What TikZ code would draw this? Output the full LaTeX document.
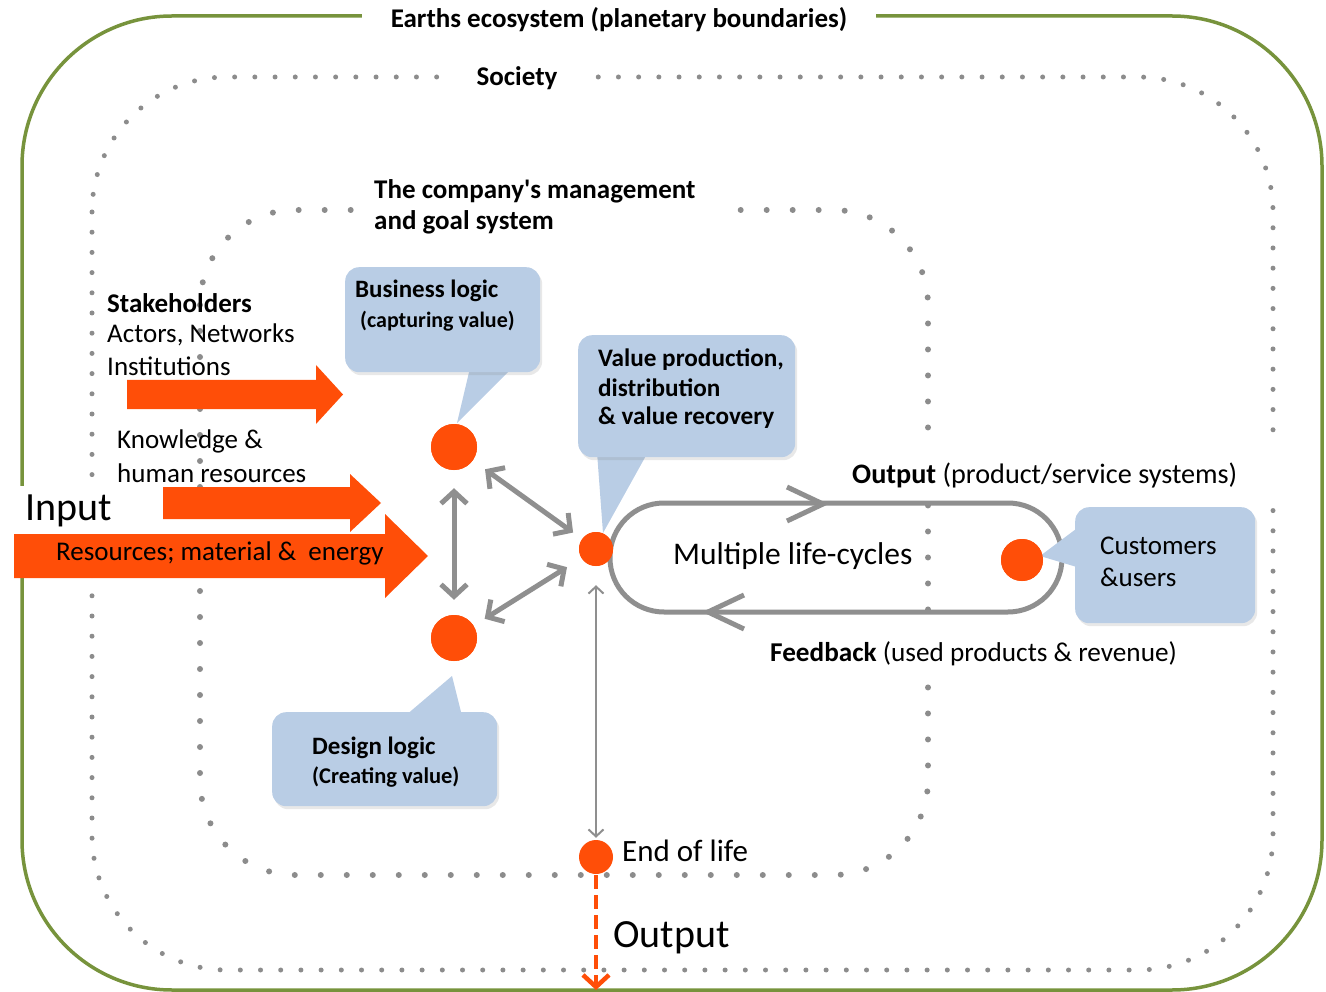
\documentclass[tikz,border=0pt]{standalone}
\usepackage{fontspec}
\setmainfont{Carlito}
\usetikzlibrary{arrows.meta,shadows}
\definecolor{ograng}{RGB}{255,78,8}
\definecolor{egreen}{RGB}{119,147,60}
\definecolor{dotgray}{RGB}{140,140,140}
\definecolor{callblue}{RGB}{185,205,229}
\definecolor{agray}{RGB}{143,143,143}
\newcommand\fsz[2]{\fontsize{#1}{#2}\selectfont}
\begin{document}
\begin{tikzpicture}[x=1pt,y=-1pt,
  greenline/.style={draw=egreen, line width=3.5pt},
  socline/.style={draw=dotgray, line width=5pt, line cap=round, dash pattern=on 0pt off 20.2pt},
  compline/.style={draw=dotgray, line width=6pt, line cap=round, dash pattern=on 0pt off 26pt},
  odot/.style={circle, fill=ograng, inner sep=0pt},
  lbl/.style={inner sep=0pt, anchor=west},
  whitebg/.style={fill=white, inner sep=0pt},
  callbox/.style={fill=callblue, rounded corners=14pt, inner sep=0pt, anchor=north west,
     drop shadow={opacity=0.18, shadow xshift=2pt, shadow yshift=-3pt}},
  callptr/.style={fill=callblue},
  garrow/.style={draw=agray, line width=5pt,
     {Straight Barb[length=12pt,width=26pt]}-{Straight Barb[length=12pt,width=26pt]}},
  thinarrow/.style={draw=agray, line width=2pt,
     {Straight Barb[length=7pt,width=15pt]}-{Straight Barb[length=7pt,width=15pt]}},
  eolarrow/.style={draw=ograng, line width=4.5pt, dash pattern=on 14pt off 6pt,
     -{Straight Barb[length=12pt,width=26pt]}},
  loopline/.style={draw=agray, line width=5pt},
  blockarrow/.style={fill=ograng},
]
\useasboundingbox (0,0) rectangle (1326,992);

% outlines
\draw[greenline, rounded corners=150pt] (22,16) rectangle (1322,990);
\draw[socline, rounded corners=135pt] (92,77) rectangle (1273,970);
\draw[compline, rounded corners=95pt] (200,210) rectangle (928,875);

% boundary labels
\node[whitebg, minimum width=514pt, minimum height=34pt, font=\bfseries\fsz{27}{31}] (title) at (619,20) {Earths ecosystem (planetary boundaries)};
\node[whitebg, minimum width=135pt, minimum height=30pt, font=\bfseries\fsz{27}{31}] (society) at (517,78) {Society};
\node[whitebg, anchor=north west, minimum width=375pt, minimum height=64pt] (compbg) at (360,175) {};
\node[lbl, font=\bfseries\fsz{27}{31}] (comp1) at (374,191) {The company\textquotesingle s management};
\node[lbl, font=\bfseries\fsz{27}{31}] (comp2) at (374,222) {and goal system};

% loop
\draw[loopline, rounded corners=54pt] (610,503) rectangle (1062,612);
\draw[loopline, line join=miter] (787,487) -- (823,504) -- (787,521);
\draw[loopline, line join=miter] (744,595) -- (708,612) -- (744,629);

\node[whitebg, anchor=west, minimum width=445pt, minimum height=54pt] (outbg) at (845,472) {};
\node[lbl, font=\fsz{28.2}{32}] (outlbl) at (852,475) {\textbf{Output} (product/service systems)};
\node[whitebg, anchor=west, inner xsep=7pt, minimum height=46pt, font=\fsz{27.2}{31}] (fblbl) at (763,654) {\textbf{Feedback} (used products \& revenue)};
\node[whitebg, anchor=west, inner xsep=10pt, inner ysep=9pt, font=\fsz{40}{46}] (input) at (15,511) {Input};

% orange block arrows
\fill[blockarrow] (127,380) -- (316,380) -- (316,365) -- (343,394.5) -- (316,424) -- (316,409) -- (127,409) -- cycle;
\fill[blockarrow] (163,487) -- (350,487) -- (350,474) -- (381,503) -- (350,532) -- (350,519) -- (163,519) -- cycle;
\fill[blockarrow] (14,534) -- (385,534) -- (385,514) -- (428,556) -- (385,598) -- (385,578) -- (14,578) -- cycle;

% dots
\node[odot, minimum size=46pt] (biz) at (454,447) {};
\node[odot, minimum size=46pt] (des) at (454,638) {};
\node[odot, minimum size=34pt] (val) at (596,549) {};
\node[odot, minimum size=42pt] (cust) at (1022,560) {};
\node[odot, minimum size=34pt] (eol) at (596,857) {};
\coordinate (bottomend) at (596,990);

% callouts
\fill[callptr] (470,368) -- (512,368) -- (457,423) -- cycle;
\node[callbox, minimum width=195pt, minimum height=105pt] (bizbox) at (345,267) {};
\fill[callptr] (597,452) -- (648,452) -- (603,533) -- cycle;
\node[callbox, minimum width=217pt, minimum height=122pt] (valbox) at (578,335) {};
\fill[callptr] (1080,526) -- (1080,568) -- (1040,556) -- cycle;
\node[callbox, minimum width=180pt, minimum height=116pt] (custbox) at (1075,507) {};
\fill[callptr] (405,716) -- (462,716) -- (452,676) -- cycle;
\node[callbox, minimum width=225pt, minimum height=94pt] (desbox) at (272,712) {};

% redraw dots over pointers
\node[odot, minimum size=46pt] at (biz) {};
\node[odot, minimum size=34pt] at (val) {};
\node[odot, minimum size=42pt] at (cust) {};
\node[odot, minimum size=46pt] at (des) {};

% gray connectors
\draw[garrow, shorten <=18pt, shorten >=15pt] (biz) -- (des);
\draw[garrow, shorten <=15pt, shorten >=11pt] (biz) -- (val);
\draw[garrow, shorten <=13pt, shorten >=17pt] (des) -- (val);
\draw[thinarrow, shorten <=19pt, shorten >=2pt] (val) -- (eol);
\draw[eolarrow, shorten <=1pt] (eol) -- (bottomend);

% texts
\node[lbl, font=\bfseries\fsz{27}{31}] (stk) at (107,303) {Stakeholders};
\node[lbl, font=\fsz{27}{31}] (act) at (107,335) {Actors, Networks};
\node[lbl, font=\fsz{27}{31}] (inst) at (107,366) {Institutions};
\node[lbl, font=\fsz{27}{31}] (know) at (117,441) {Knowledge \&};
\node[lbl, font=\fsz{27}{31}] (human) at (117,473) {human resources};
\node[lbl, font=\fsz{27}{31}] (res) at (56,553) {Resources; material \&\ \ energy};
\node[lbl, font=\bfseries\fsz{25}{29}] (biz1) at (355,291) {Business logic};
\node[lbl, font=\bfseries\fsz{22}{26}] (biz2) at (360,321) {(capturing value)};
\node[lbl, font=\bfseries\fsz{25.2}{30}] (val1) at (598,360) {Value production,};
\node[lbl, font=\bfseries\fsz{25.2}{30}] (val2) at (598,388) {distribution};
\node[lbl, font=\bfseries\fsz{25.2}{30}] (val3) at (598,418) {\& value recovery};
\node[lbl, font=\fsz{31.5}{36}] (mlc) at (673,556) {Multiple life-cycles};
\node[lbl, font=\fsz{27}{31}] (cust1) at (1100,546) {Customers};
\node[lbl, font=\fsz{27}{31}] (cust2) at (1100,577) {\&users};
\node[lbl, font=\bfseries\fsz{25}{29}] (des1) at (312,748) {Design logic};
\node[lbl, font=\bfseries\fsz{22.5}{26}] (des2) at (312,777) {(Creating value)};
\node[lbl, font=\fsz{31}{36}] (eoltxt) at (622,851) {End of life};
\node[lbl, font=\fsz{40}{46}] (out2) at (613,938) {Output};
\end{tikzpicture}
\end{document}
